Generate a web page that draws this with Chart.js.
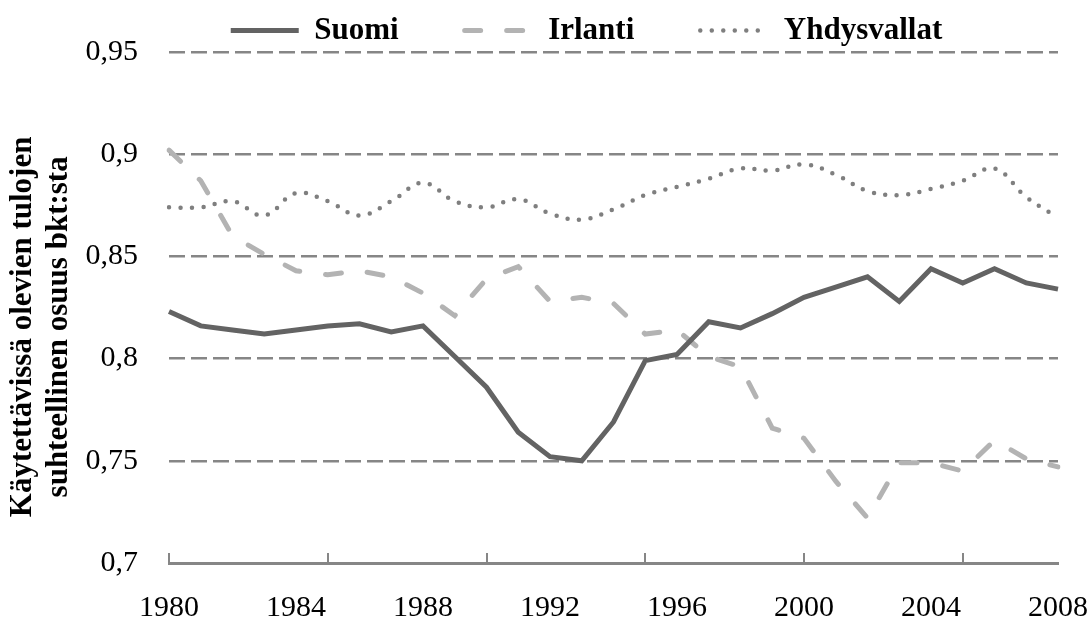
<!DOCTYPE html>
<html lang="fi">
<head>
    <meta charset="UTF-8">
    <title>Käytettävissä olevien tulojen osuus</title>
    <script src="https://cdn.jsdelivr.net/npm/chart.js"></script>
    <style>
        body {
            margin: 0;
            background: #ffffff;
        }
        #wrap {
            width: 1091px;
            height: 624px;
        }
    </style>
</head>
<body>
    <div id="wrap"><canvas id="chart" width="1091" height="624"></canvas></div>

    <script>
        // vuodet (x-akseli)
        const years = [1980, 1981, 1982, 1983, 1984, 1985, 1986, 1987, 1988, 1989,
                       1990, 1991, 1992, 1993, 1994, 1995, 1996, 1997, 1998, 1999,
                       2000, 2001, 2002, 2003, 2004, 2005, 2006, 2007, 2008];

        const suomi = [0.823, 0.816, 0.814, 0.812, 0.814, 0.816, 0.817, 0.813, 0.816, 0.801,
                       0.786, 0.764, 0.752, 0.750, 0.769, 0.799, 0.802, 0.818, 0.815, 0.822,
                       0.830, 0.835, 0.840, 0.828, 0.844, 0.837, 0.844, 0.837, 0.834];

        const irlanti = [0.902, 0.887, 0.860, 0.851, 0.843, 0.841, 0.843, 0.840, 0.832, 0.821,
                         0.839, 0.845, 0.828, 0.830, 0.827, 0.812, 0.814, 0.801, 0.796, 0.766,
                         0.761, 0.740, 0.722, 0.749, 0.749, 0.745, 0.760, 0.751, 0.747];

        const yhdysvallat = [0.874, 0.874, 0.877, 0.870, 0.881, 0.877, 0.870, 0.877, 0.886, 0.877,
                             0.874, 0.878, 0.871, 0.868, 0.873, 0.880, 0.884, 0.888, 0.893, 0.892,
                             0.895, 0.890, 0.882, 0.880, 0.883, 0.887, 0.893, 0.879, 0.869];

        const yTicks = [0.7, 0.75, 0.8, 0.85, 0.9, 0.95];
        const yTitle = ['Käytettävissä olevien tulojen     ', 'suhteellinen osuus bkt:sta     '];

        const serif = "'Liberation Serif', 'Times New Roman', serif";
        const axisGrey = '#868686';

        // siirtää selitteen samaan kohtaan kuin alkuperäisessä
        const legendShift = {
            id: 'legendShift',
            afterLayout(chart) {
                chart.legend.left += 41;
                chart.legend.right += 41;
            }
        };

        new Chart(document.getElementById('chart'), {
            type: 'line',
            data: {
                labels: years,
                datasets: [
                    {
                        label: 'Suomi',
                        data: suomi,
                        borderColor: '#636363',
                        borderWidth: 5,
                        pointRadius: 0,
                        tension: 0
                    },
                    {
                        label: 'Irlanti',
                        data: irlanti,
                        borderColor: '#b3b3b3',
                        borderWidth: 5,
                        borderDash: [16, 26],
                        borderCapStyle: 'round',
                        pointRadius: 0,
                        tension: 0
                    },
                    {
                        label: 'Yhdysvallat',
                        data: yhdysvallat,
                        borderColor: '#7f7f7f',
                        borderWidth: 4.5,
                        borderDash: [0, 11.5],
                        borderCapStyle: 'round',
                        pointRadius: 0,
                        tension: 0.4
                    }
                ]
            },
            options: {
                responsive: false,
                animation: false,
                devicePixelRatio: 1,
                layout: {
                    padding: { top: -51, right: 0, bottom: 0, left: 0 }
                },
                plugins: {
                    tooltip: { enabled: false },
                    legend: {
                        position: 'top',
                        maxHeight: 103,
                        labels: {
                            usePointStyle: true,
                            pointStyle: 'line',
                            pointStyleWidth: 68,
                            padding: 66,
                            color: '#000000',
                            font: { family: serif, size: 31, weight: 'bold' },
                            generateLabels: (chart) => {
                                const items = Chart.defaults.plugins.legend.labels.generateLabels(chart);
                                items.forEach(item => {
                                    const ds = chart.data.datasets[item.datasetIndex];
                                    item.lineDash = ds.borderDash || [];
                                    item.lineCap = ds.borderCapStyle || 'butt';
                                    item.lineWidth = ds.borderWidth;
                                    item.strokeStyle = ds.borderColor;
                                    item.pointStyle = 'line';
                                });
                                return items;
                            }
                        }
                    }
                },
                scales: {
                    x: {
                        type: 'category',
                        afterFit: (scale) => {
                            scale.height = 61;
                            scale.paddingLeft = 0;
                            scale.paddingRight = 33;
                        },
                        border: { display: true, color: axisGrey, width: 3 },
                        grid: {
                            display: true,
                            drawOnChartArea: false,
                            drawTicks: true,
                            tickLength: -10,
                            lineWidth: 2,
                            color: (c) => (c.index % 5 === 0 ? axisGrey : 'rgba(0,0,0,0)')
                        },
                        ticks: {
                            autoSkip: false,
                            maxRotation: 0,
                            padding: 37,
                            color: '#000000',
                            font: { family: serif, size: 30 },
                            callback: (v, i) => (i % 4 === 0 ? years[i] : '')
                        }
                    },
                    y: {
                        min: 0.7,
                        max: 0.95,
                        afterFit: (scale) => { scale.width = 169; },
                        afterBuildTicks: (scale) => {
                            scale.ticks = yTicks.map(v => ({ value: v }));
                        },
                        border: { display: false, dash: [16, 6] },
                        grid: {
                            drawTicks: false,
                            lineWidth: 2.5,
                            color: (c) => (c.tick && c.tick.value < 0.71 ? 'rgba(0,0,0,0)' : axisGrey)
                        },
                        ticks: {
                            padding: 31,
                            color: '#000000',
                            font: { family: serif, size: 30 },
                            callback: (v) => String(Number(v.toFixed(2))).replace('.', ',')
                        },
                        title: {
                            display: true,
                            text: yTitle,
                            color: '#000000',
                            padding: { top: 5, bottom: 0 },
                            font: { family: serif, size: 31, weight: 'bold', lineHeight: 1.17 }
                        }
                    }
                }
            },
            plugins: [legendShift]
        });
    </script>
</body>
</html>
